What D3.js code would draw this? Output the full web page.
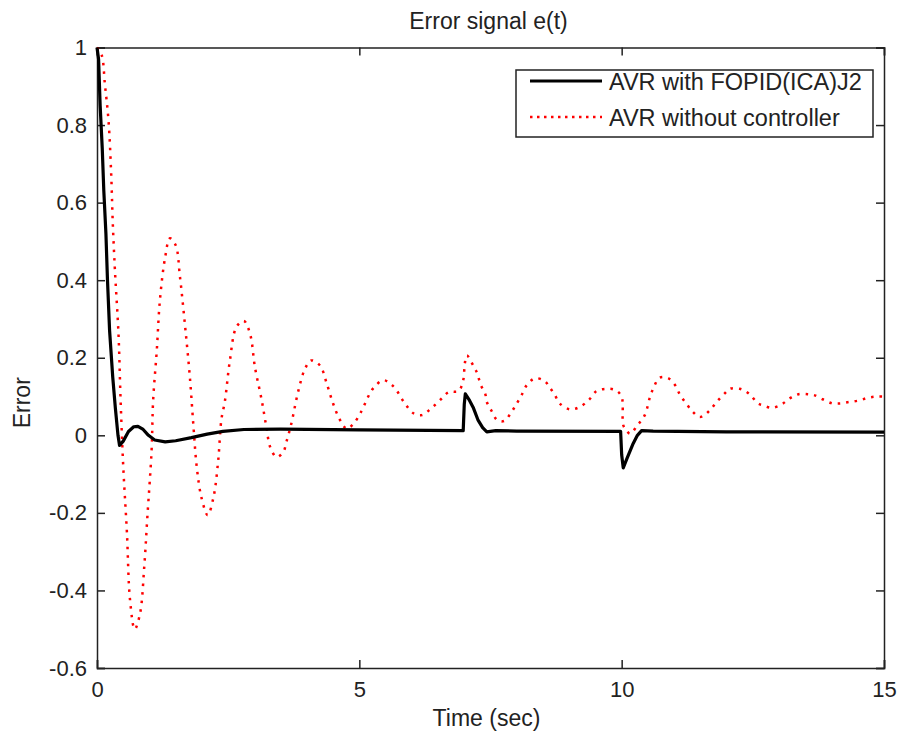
<!DOCTYPE html>
<html>
<head>
<meta charset="utf-8">
<script src="https://cdn.jsdelivr.net/npm/d3@7"></script>
<style>
  body { margin: 0; background: #fff; }
  text { font-family: "Liberation Sans", Arial, sans-serif; fill: #222; }
</style>
</head>
<body>
<svg id="chart" width="900" height="738"></svg>
<script>
var WIDTH = 900;
var HEIGHT = 738;

var LEFT = 97;
var RIGHT = 884;
var TOP = 47.5;
var BOTTOM = 668;

// AVR with FOPID(ICA)J2
var pidTime = [0, 0.03, 0.06, 0.1, 0.13, 0.17, 0.2, 0.24, 0.3, 0.35, 0.4, 0.43, 0.5, 0.6, 0.7, 0.78,
  0.88, 0.98, 1.1, 1.3, 1.5, 1.8, 2.1, 2.4, 2.8, 3.5, 5, 6.98, 7.0, 7.02, 7.1, 7.17, 7.26, 7.35,
  7.43, 7.6, 8, 9.98, 10.0, 10.03, 10.1, 10.22, 10.3, 10.38, 10.6, 12, 15];
var pidError = [1, 0.97, 0.85, 0.74, 0.63, 0.52, 0.4, 0.27, 0.15, 0.07, 0.0, -0.026, -0.015, 0.01, 0.022, 0.023,
  0.015, 0.0, -0.012, -0.017, -0.014, -0.006, 0.003, 0.01, 0.015, 0.016, 0.014, 0.012, 0.08, 0.107, 0.09, 0.072, 0.04, 0.02,
  0.009, 0.012, 0.011, 0.01, -0.05, -0.084, -0.06, -0.021, 0.0, 0.012, 0.011, 0.009, 0.008];

// AVR without controller
var openTime = [0, 0.09, 0.15, 0.22, 0.27, 0.3, 0.34, 0.41, 0.45, 0.5, 0.57, 0.63, 0.72, 0.82, 0.9, 0.96,
  1.04, 1.07, 1.14, 1.2, 1.3, 1.39, 1.5, 1.58, 1.68, 1.77, 1.84, 1.9, 1.99, 2.11, 2.22, 2.31, 2.37,
  2.44, 2.53, 2.66, 2.8, 2.92, 3.01, 3.14, 3.23, 3.3, 3.42, 3.55, 3.61, 3.7, 3.84, 3.96, 4.08, 4.25,
  4.38, 4.5, 4.63, 4.76, 4.89, 5.04, 5.17, 5.27, 5.46, 5.65, 5.87, 6.03, 6.19, 6.38, 6.57, 6.71, 6.89,
  6.98, 7.01, 7.05, 7.17, 7.25, 7.31, 7.4, 7.43, 7.52, 7.63, 7.76, 7.9, 8.0, 8.09, 8.19, 8.35, 8.53,
  8.63, 8.73, 8.82, 9.01, 9.2, 9.38, 9.52, 9.71, 9.89, 10.0, 10.03, 10.09, 10.16, 10.3, 10.44, 10.54,
  10.6, 10.72, 10.88, 11.02, 11.11, 11.23, 11.36, 11.49, 11.67, 11.81, 11.97, 12.06, 12.25, 12.43,
  12.6, 12.7, 12.86, 13.05, 13.2, 13.37, 13.56, 13.68, 13.83, 14.0, 14.16, 14.34, 14.53, 14.7, 14.86, 15];
var openError = [1, 0.98, 0.906, 0.81, 0.675, 0.55, 0.43, 0.26, 0.09, -0.08, -0.25, -0.425, -0.5, -0.46, -0.34, -0.21,
  -0.04, 0.09, 0.22, 0.35, 0.46, 0.508, 0.49, 0.41, 0.28, 0.15, 0.02, -0.08, -0.16, -0.206, -0.16, -0.065, 0.04,
  0.09, 0.19, 0.28, 0.295, 0.26, 0.176, 0.09, 0.02, -0.03, -0.056, -0.043, -0.017, 0.028, 0.116, 0.17, 0.193, 0.18,
  0.133, 0.082, 0.04, 0.017, 0.03, 0.062, 0.1, 0.122, 0.142, 0.126, 0.082, 0.057, 0.052, 0.071, 0.095, 0.112, 0.114,
  0.142, 0.185, 0.206, 0.18, 0.159, 0.131, 0.107, 0.086, 0.063, 0.039, 0.037, 0.06, 0.082, 0.103, 0.129, 0.147, 0.14,
  0.123, 0.103, 0.082, 0.067, 0.073, 0.092, 0.114, 0.12, 0.116, 0.099, 0.026, 0.013, 0.004, 0.026, 0.052, 0.099,
  0.12, 0.148, 0.148, 0.129, 0.105, 0.082, 0.06, 0.047, 0.063, 0.086, 0.109, 0.12, 0.12, 0.107,
  0.082, 0.077, 0.071, 0.08, 0.095, 0.106, 0.106, 0.103, 0.093, 0.083, 0.082, 0.086, 0.09, 0.097, 0.1, 0.1];

var xTicks = [0, 5, 10, 15];
var yTicks = [-0.6, -0.4, -0.2, 0, 0.2, 0.4, 0.6, 0.8, 1];

var legendLabels = ['AVR with FOPID(ICA)J2', 'AVR without controller'];


function zip(xs, ys) {
  var out = [];
  for (var i = 0; i < xs.length; i++) {
    out.push([xs[i], ys[i]]);
  }
  return out;
}

// plain hyphen for negatives, like matlab does
function tickLabel(d) {
  return String(+d.toFixed(1));
}

var svg = d3.select('#chart');

var x = d3.scaleLinear().domain([0, 15]).range([LEFT, RIGHT]);
var y = d3.scaleLinear().domain([-0.6, 1]).range([BOTTOM, TOP]);

var TICK_SIZE = 8;

// ticks on all four sides, pointing inward
svg.append('g')
  .attr('transform', 'translate(0,' + BOTTOM + ')')
  .call(d3.axisBottom(x).tickValues(xTicks).tickSize(-TICK_SIZE).tickPadding(13).tickFormat(tickLabel))
  .call(styleAxis);

svg.append('g')
  .attr('transform', 'translate(0,' + TOP + ')')
  .call(d3.axisTop(x).tickValues(xTicks).tickSize(-TICK_SIZE).tickFormat(''))
  .call(styleAxis);

svg.append('g')
  .attr('transform', 'translate(' + LEFT + ',0)')
  .call(d3.axisLeft(y).tickValues(yTicks).tickSize(-TICK_SIZE).tickPadding(10).tickFormat(tickLabel))
  .call(styleAxis);

svg.append('g')
  .attr('transform', 'translate(' + RIGHT + ',0)')
  .call(d3.axisRight(y).tickValues(yTicks).tickSize(-TICK_SIZE).tickFormat(''))
  .call(styleAxis);

function styleAxis(g) {
  g.select('.domain').attr('stroke', '#222').attr('stroke-width', 1.5);
  g.selectAll('.tick line').attr('stroke', '#222').attr('stroke-width', 1.5);
  g.selectAll('.tick text')
    .attr('font-size', 22)
    .attr('font-family', '"Liberation Sans", Arial, sans-serif')
    .attr('fill', '#222');
}

var line = d3.line()
  .x(function(d) { return x(d[0]); })
  .y(function(d) { return y(d[1]); });

svg.append('path')
  .attr('fill', 'none')
  .attr('stroke', '#ff0000')
  .attr('stroke-width', 2.5)
  .attr('stroke-dasharray', '2.5,6')
  .attr('d', line.curve(d3.curveCatmullRom)(zip(openTime, openError)));

svg.append('path')
  .attr('fill', 'none')
  .attr('stroke', '#000')
  .attr('stroke-width', 3.2)
  .attr('stroke-linejoin', 'round')
  .attr('d', line.curve(d3.curveLinear)(zip(pidTime, pidError)));

// title and axis labels
svg.append('text')
  .attr('x', (LEFT + RIGHT) / 2 - 2)
  .attr('y', 29)
  .attr('text-anchor', 'middle')
  .attr('font-size', 23)
  .text('Error signal e(t)');

svg.append('text')
  .attr('x', (LEFT + RIGHT) / 2 - 4)
  .attr('y', 726)
  .attr('text-anchor', 'middle')
  .attr('font-size', 23)
  .text('Time (sec)');

svg.append('text')
  .attr('transform', 'translate(30,' + ((TOP + BOTTOM) / 2 + 45) + ') rotate(-90)')
  .attr('text-anchor', 'middle')
  .attr('font-size', 23)
  .text('Error');

// legend
var legend = svg.append('g');

legend.append('rect')
  .attr('x', 516)
  .attr('y', 70)
  .attr('width', 357)
  .attr('height', 67)
  .attr('fill', '#fff')
  .attr('stroke', '#222')
  .attr('stroke-width', 1.5);

var legendStyles = [
  { color: '#000', width: 3.2, dash: null },
  { color: '#ff0000', width: 2.5, dash: '2.5,4.5' }
];

legend.selectAll('.entry')
  .data(legendLabels)
  .enter()
  .append('g')
    .attr('class', 'entry')
    .attr('transform', function(d, i) { return 'translate(0,' + (81 + i * 36) + ')'; })
    .each(function(d, i) {
      var g = d3.select(this);
      g.append('line')
        .attr('x1', 530).attr('x2', 602)
        .attr('y1', 0).attr('y2', 0)
        .attr('stroke', legendStyles[i].color)
        .attr('stroke-width', legendStyles[i].width)
        .attr('stroke-dasharray', legendStyles[i].dash);
      g.append('text')
        .attr('x', 609)
        .attr('y', 8.5)
        .attr('font-size', 23.5)
        .text(d);
    });
</script>
</body>
</html>
